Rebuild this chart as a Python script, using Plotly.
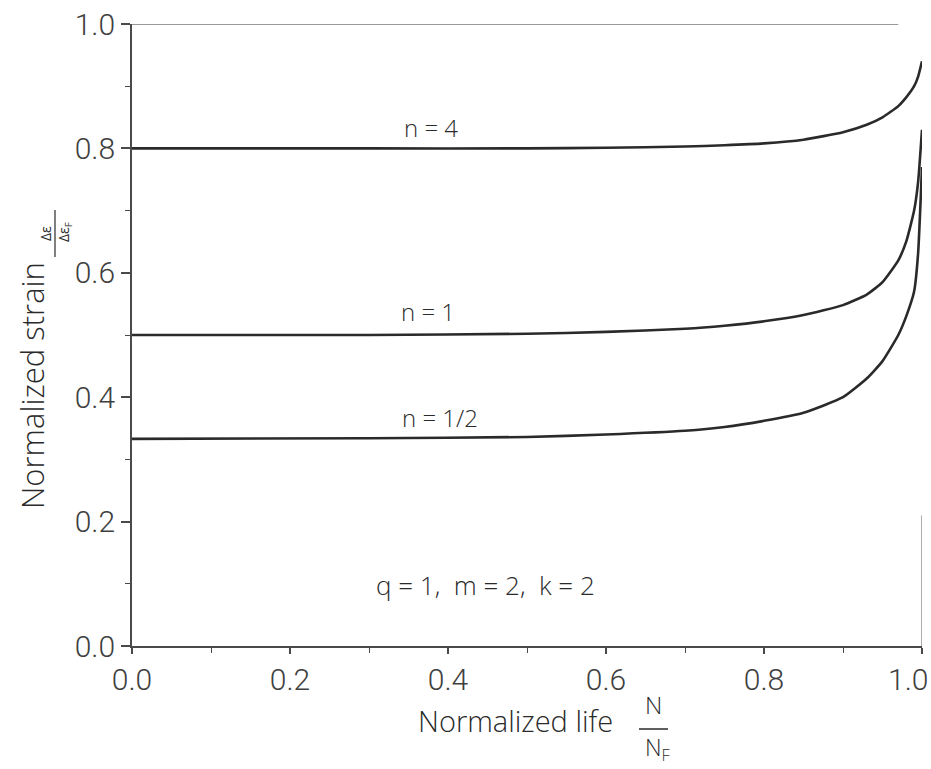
import plotly.graph_objects as go

# Normalized life N/N_F and normalized strain
x_n4 = [0.0, 0.3, 0.5, 0.6, 0.7, 0.75, 0.8, 0.85, 0.9, 0.93, 0.95, 0.97, 0.98, 0.99, 0.995, 1.0]
y_n4 = [0.800, 0.800, 0.800, 0.801, 0.803, 0.805, 0.808, 0.814, 0.826, 0.838, 0.850, 0.868, 0.882, 0.900, 0.915, 0.940]

x_n1 = [0.0, 0.3, 0.5, 0.6, 0.7, 0.75, 0.8, 0.85, 0.9, 0.93, 0.95, 0.97, 0.98, 0.99, 0.995, 1.0]
y_n1 = [0.500, 0.500, 0.502, 0.505, 0.510, 0.515, 0.522, 0.532, 0.548, 0.565, 0.585, 0.620, 0.650, 0.700, 0.745, 0.830]

x_nh = [0.0, 0.3, 0.5, 0.6, 0.7, 0.75, 0.8, 0.85, 0.9, 0.93, 0.95, 0.97, 0.98, 0.99, 0.995, 1.0]
y_nh = [0.333, 0.334, 0.336, 0.340, 0.346, 0.352, 0.362, 0.375, 0.400, 0.430, 0.458, 0.500, 0.530, 0.570, 0.630, 0.770]

curve_labels = ["n = 4", "n = 1", "n = 1/2"]
label_pos_x = [0.378, 0.375, 0.39]
label_pos_y = [0.833, 0.537, 0.367]
params_text = "q = 1,  m = 2,  k = 2"

tick_vals = [0.0, 0.2, 0.4, 0.6, 0.8, 1.0]
y_tick_text = ["0.0", "0.2", "0.4", "0.6", "0.8", "1.0"]
x_tick_text = ["0.0", "0.2", "0.4", "0.6", "0.8", ""]
x_last_label = "1.0"

TICKFONT = "Roboto, sans-serif"
TXTFONT = "Open Sans, Roboto, sans-serif"
INK = "#2a2a2a"
AX = "#4a4a4a"

fig = go.Figure()
for xs, ys in [(x_n4, y_n4), (x_n1, y_n1), (x_nh, y_nh)]:
    fig.add_trace(go.Scatter(x=xs, y=ys, mode="lines",
                             line=dict(color=INK, width=2.6, shape="spline", smoothing=0.5),
                             showlegend=False, hoverinfo="skip"))

for t, lx, ly in zip(curve_labels, label_pos_x, label_pos_y):
    fig.add_annotation(x=lx, y=ly, xref="x", yref="y", text=t, showarrow=False,
                       font=dict(family=TXTFONT, size=24, color=INK, weight=300),
                       xanchor="center", yanchor="middle")
fig.add_annotation(x=0.447, y=0.098, xref="x", yref="y", text=params_text, showarrow=False,
                   font=dict(family=TXTFONT, size=26, color=INK, weight=300),
                   xanchor="center", yanchor="middle")

W, H = 931, 769
L, R, T, B = 132, 9, 24, 123
pw, ph = W - L - R, H - T - B


def px(xpix):
    return (xpix - L) / pw


def py(ypix):
    return (H - B - ypix) / ph


# last x tick label, kept inside the page
fig.add_annotation(x=1.0, y=py(680), xref="x", yref="paper", text=x_last_label, showarrow=False,
                   xanchor="right", yanchor="middle", xshift=8,
                   font=dict(family=TICKFONT, size=30, color="#404040", weight=300))

# x-axis title with fraction N / N_F
fig.add_annotation(x=px(515), y=py(720), xref="paper", yref="paper", text="Normalized life",
                   showarrow=False, font=dict(family=TXTFONT, size=29, color=INK, weight=300),
                   xanchor="center", yanchor="middle")
fig.add_annotation(x=px(653), y=py(704), xref="paper", yref="paper", text="N",
                   showarrow=False, font=dict(family=TXTFONT, size=24, color=INK, weight=300),
                   xanchor="center", yanchor="middle")
fig.add_annotation(x=px(657), y=py(768), xref="paper", yref="paper", text="N<sub>F</sub>",
                   showarrow=False, font=dict(family=TXTFONT, size=23, color=INK, weight=300),
                   xanchor="center", yanchor="bottom")
fig.add_shape(type="line", xref="paper", yref="paper", x0=px(639), x1=px(668), y0=py(729), y1=py(729),
              line=dict(color=INK, width=1.5))

# y-axis title with fraction Δε / Δε_F
fig.add_annotation(x=px(32), y=py(386), xref="paper", yref="paper", text="Normalized strain", textangle=-90,
                   showarrow=False, font=dict(family=TXTFONT, size=31, color=INK, weight=300),
                   xanchor="center", yanchor="middle")
fig.add_annotation(x=px(46), y=py(234), xref="paper", yref="paper", text="Δε", textangle=-90,
                   showarrow=False, font=dict(family=TXTFONT, size=14, color=INK),
                   xanchor="center", yanchor="middle")
fig.add_annotation(x=px(64), y=py(232), xref="paper", yref="paper", text="Δε<sub>F</sub>", textangle=-90,
                   showarrow=False, font=dict(family=TXTFONT, size=14, color=INK),
                   xanchor="center", yanchor="middle")
fig.add_shape(type="line", xref="paper", yref="paper", x0=px(55), x1=px(55), y0=py(210), y1=py(257),
              line=dict(color=INK, width=1.2))

# frame pieces (top and partial right)
fig.add_shape(type="line", xref="x", yref="y", x0=0, x1=0.97, y0=1.0, y1=1.0, line=dict(color="#777", width=1.3))
fig.add_shape(type="line", xref="x", yref="y", x0=1.0, x1=1.0, y0=0, y1=0.21, line=dict(color="#777", width=1.2))

axis_common = dict(
    tickmode="array", tickvals=tick_vals,
    ticks="outside", tickwidth=1.5, tickcolor=AX,
    showline=True, linecolor=AX, linewidth=1.8, showgrid=False, zeroline=False,
    tickfont=dict(family=TICKFONT, size=30, color="#404040", weight=300),
    automargin=False,
    minor=dict(ticks="outside", ticklen=5, tickwidth=1.3, tickcolor=AX, dtick=0.1, tick0=0, showgrid=False),
)

fig.update_xaxes(range=[0, 1.0], ticklen=6, ticktext=x_tick_text, **axis_common)
fig.update_yaxes(range=[0, 1.0], ticklen=9, ticktext=y_tick_text, **axis_common)

fig.update_layout(
    width=W, height=H,
    margin=dict(l=L, r=R, t=T, b=B, autoexpand=False),
    plot_bgcolor="white", paper_bgcolor="white",
    font=dict(family=TXTFONT, color=INK),
)

fig.write_html("out.html")
